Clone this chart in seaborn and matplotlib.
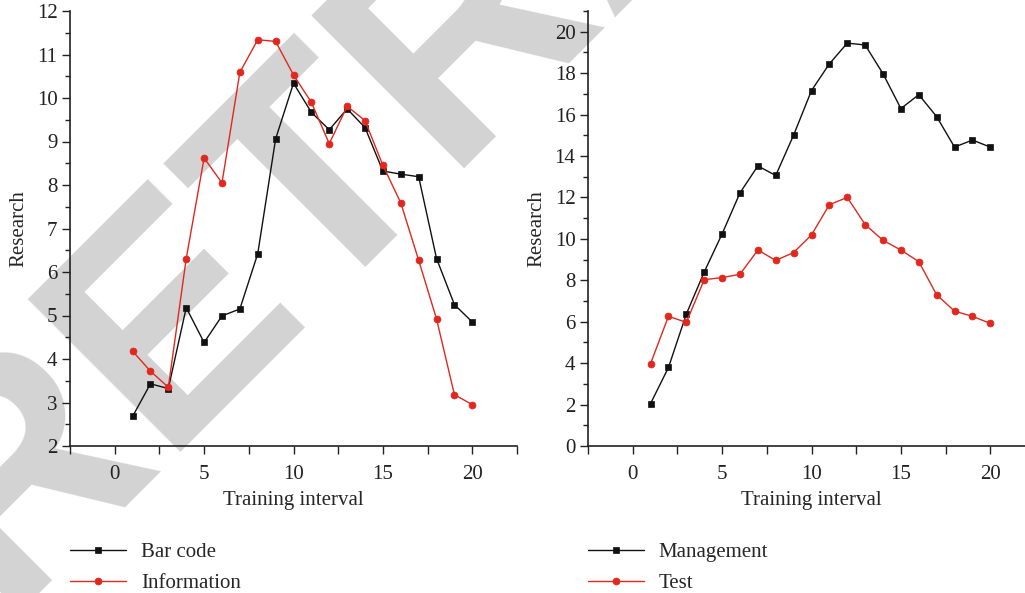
import numpy as np
import pandas as pd
import matplotlib
matplotlib.use("Agg")
import matplotlib.pyplot as plt
import seaborn as sns

# ---- data ----
interval = list(range(1, 21))
bar_code = [2.68, 3.43, 3.32, 5.18, 4.38, 4.99, 5.15, 6.42, 9.06, 10.34,
            9.67, 9.27, 9.75, 9.32, 8.32, 8.25, 8.19, 6.31, 5.25, 4.85]
information = [4.18, 3.72, 3.35, 6.31, 8.62, 8.05, 10.59, 11.34, 11.30, 10.53,
               9.90, 8.95, 9.81, 9.48, 8.45, 7.59, 6.27, 4.92, 3.18, 2.95]
management = [2.05, 3.79, 6.37, 8.40, 10.24, 12.22, 13.52, 13.06, 15.01, 17.16,
              18.45, 19.45, 19.36, 17.97, 16.29, 16.96, 15.90, 14.43, 14.77, 14.43]
test = [3.98, 6.26, 5.97, 8.03, 8.13, 8.29, 9.46, 8.96, 9.34, 10.19,
        11.65, 12.00, 10.69, 9.93, 9.46, 8.90, 7.30, 6.51, 6.26, 5.92]
x_label = "Training interval"
y_label = "Research"
watermark = "RETRACTED"

sns.set_theme(style="ticks")
plt.rcParams["font.family"] = ["Liberation Serif", "DejaVu Serif"]
plt.rcParams["axes.linewidth"] = 1.2
for k in ["xtick.major.width", "ytick.major.width", "xtick.minor.width", "ytick.minor.width"]:
    plt.rcParams[k] = 1.0
plt.rcParams["xtick.color"] = "#222222"
plt.rcParams["ytick.color"] = "#222222"

BLACK = "#111111"
RED = "#E0281E"
FS = 15

fig = plt.figure(figsize=(10.25, 5.93), dpi=100)
W, H = 1025.0, 593.0

# watermark behind everything
fig.text(0 / W, 1 - 612 / H, watermark, rotation=45, rotation_mode="anchor",
         ha="left", va="baseline", fontsize=226, color="#d3d3d3",
         family="Liberation Sans", fontweight="bold", zorder=-5)

ax1 = fig.add_axes([70 / W, 1 - 446 / H, 447 / W, 435 / H])
ax2 = fig.add_axes([588 / W, 1 - 446 / H, 447 / W, 435 / H])

df1 = pd.DataFrame({"x": interval, "Bar code": bar_code, "Information": information})
df2 = pd.DataFrame({"x": interval, "Management": management, "Test": test})

def draw(ax, df, names, ylim, yticks, yminor):
    ax.set_facecolor("none")
    styles = [("s", BLACK, 6.3), ("o", RED, 7.0)]
    for name, (mk, col, ms) in zip(names, styles):
        sns.lineplot(data=df, x="x", y=name, ax=ax, color=col, marker=mk,
                     markersize=ms, markeredgecolor=col, markeredgewidth=0.5,
                     linewidth=1.0, label=name, legend=False)
    ax.set_xlim(-2.5, 22.5)
    ax.set_ylim(*ylim)
    ax.set_xticks([0, 5, 10, 15, 20])
    ax.set_xticks(np.arange(-2.5, 22.6, 2.5), minor=True)
    ax.set_yticks(yticks)
    ax.set_yticks(yminor, minor=True)
    ax.tick_params(axis="both", which="major", labelsize=FS, length=6, direction="out")
    ax.tick_params(axis="x", which="minor", length=6, direction="out")
    ax.tick_params(axis="y", which="minor", length=3.5, direction="out")
    ax.tick_params(axis="x", which="major", pad=8)
    ax.tick_params(axis="y", which="major", pad=3)
    ax.set_xlabel(x_label, fontsize=FS, labelpad=5)
    ax.set_ylabel(y_label, fontsize=FS, labelpad=6)
    for s in ["top", "right"]:
        ax.spines[s].set_visible(False)
    for s in ["left", "bottom"]:
        ax.spines[s].set_color("#222222")

draw(ax1, df1, ["Bar code", "Information"], (2, 12),
     np.arange(2, 13, 1), np.arange(2, 12.01, 0.5))
draw(ax2, df2, ["Management", "Test"], (0, 21),
     np.arange(0, 21, 2), np.arange(0, 21.01, 1))

for ax, x0 in [(ax1, 70), (ax2, 588)]:
    h, l = ax.get_legend_handles_labels()
    for hh in h:
        hh.set_markersize(5)
    ax.legend(h, l, loc="center left", bbox_to_anchor=(x0 / W, 1 - 568 / H),
              bbox_transform=fig.transFigure, frameon=False, fontsize=FS,
              handlelength=2.7, handletextpad=0.7, labelspacing=0.55,
              borderpad=0, borderaxespad=0)

fig.savefig("out.png", dpi=100)
